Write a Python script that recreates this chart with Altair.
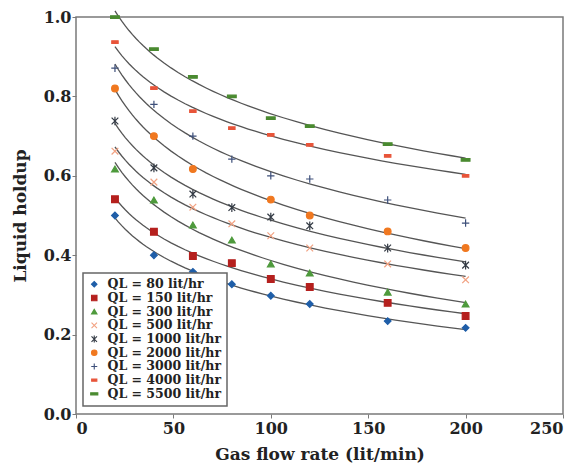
import altair as alt
import pandas as pd

x_vals = [20, 40, 60, 80, 100, 120, 160, 200]

labels = [
    "QL = 80 lit/hr", "QL = 150 lit/hr", "QL = 300 lit/hr", "QL = 500 lit/hr",
    "QL = 1000 lit/hr", "QL = 2000 lit/hr", "QL = 3000 lit/hr",
    "QL = 4000 lit/hr", "QL = 5500 lit/hr",
]

y80 = [0.50, 0.40, 0.358, 0.327, 0.298, 0.277, 0.234, 0.217]
y150 = [0.541, 0.459, 0.398, 0.380, 0.340, 0.320, 0.280, 0.247]
y300 = [0.617, 0.539, 0.476, 0.438, 0.378, 0.355, 0.307, 0.277]
y500 = [0.662, 0.584, 0.521, 0.479, 0.449, 0.418, 0.378, 0.338]
y1000 = [0.738, 0.620, 0.554, 0.520, 0.496, 0.474, 0.418, 0.375]
y2000 = [0.820, 0.700, 0.617, None, 0.540, 0.500, 0.460, 0.418]
y3000 = [0.871, 0.780, 0.700, 0.642, 0.600, 0.592, 0.539, 0.481]
y4000 = [0.937, 0.821, 0.763, 0.720, 0.703, 0.678, 0.650, 0.600]
y5500 = [1.000, 0.919, 0.849, 0.800, 0.745, 0.725, 0.680, 0.640]

series = [y80, y150, y300, y500, y1000, y2000, y3000, y4000, y5500]

colors = ["#1f5ea8", "#b5201e", "#4e9a3c", "#f2a282", "#333a44",
          "#f07820", "#3d4f7a", "#e8553a", "#4a8a30"]
shapes = [
    "diamond",
    "square",
    "triangle-up",
    "M-1,-1L1,1M-1,1L1,-1",
    "M-1,-1L1,1M-1,1L1,-1M0,-1.3L0,1.3",
    "circle",
    "M-1.1,0L1.1,0M0,-1.1L0,1.1",
    "M-0.95,-0.38H0.95V0.38H-0.95Z",
    "M-1.3,-0.38H1.3V0.38H-1.3Z",
]

rows = []
for name, ys in zip(labels, series):
    for x, y in zip(x_vals, ys):
        if y is not None:
            rows.append({"x": x, "y": y, "series": name})
df = pd.DataFrame(rows)

FONT = "DejaVu Serif"

x_enc = alt.X("x:Q", scale=alt.Scale(domain=[0, 250], nice=False),
              axis=alt.Axis(values=[0, 50, 100, 150, 200, 250], title="Gas flow rate (lit/min)"))
y_enc = alt.Y("y:Q", scale=alt.Scale(domain=[0, 1], nice=False),
              axis=alt.Axis(values=[0, 0.2, 0.4, 0.6, 0.8, 1.0], format=".1f", title="Liquid holdup"))

color_scale = alt.Scale(domain=labels, range=colors)
shape_scale = alt.Scale(domain=labels, range=shapes)
leg = alt.Legend(title=None, orient="none", legendX=7, legendY=256)

base = alt.Chart(df)

lines = base.transform_regression(
    "x", "y", method="log", groupby=["series"]
).mark_line(color="#555555", strokeWidth=1.3).encode(
    x=x_enc, y=y_enc, detail="series:N"
)

points = base.mark_point(filled=False, size=45, strokeWidth=1.2, opacity=1).encode(
    x=x_enc,
    y=y_enc,
    stroke=alt.Stroke("series:N", scale=color_scale, legend=leg, sort=labels),
    fill=alt.Fill("series:N", scale=color_scale, legend=leg, sort=labels),
    shape=alt.Shape("series:N", scale=shape_scale, legend=leg, sort=labels),
)

chart = alt.layer(lines, points).properties(
    width=487, height=397,
    autosize=alt.AutoSizeParams(type="none"),
    padding={"left": 76, "top": 17, "right": 16, "bottom": 55},
    background="white",
).configure_view(
    stroke="#7a7a7a", strokeWidth=1.5
).configure_axis(
    grid=False, domain=False,
    labelFont=FONT, labelFontWeight="bold", labelFontSize=16, labelColor="#222",
    titleFont=FONT, titleFontWeight="bold", titleFontSize=17, titleColor="#222",
    tickColor="#7a7a7a", tickSize=4,
).configure_axisX(
    labelPadding=2, titlePadding=10,
).configure_axisY(
    labelPadding=1, titlePadding=14,
).configure_legend(
    strokeColor="#666666", strokeWidth=1.5, fillColor="white", padding=5,
    labelFont=FONT, labelFontWeight="bold", labelFontSize=12.5, labelColor="#222",
    symbolSize=30, symbolStrokeWidth=1.1, rowPadding=0.7, labelOffset=7,
    cornerRadius=0,
)

chart.save("out.html", embed_options={"renderer": "svg", "actions": False})
